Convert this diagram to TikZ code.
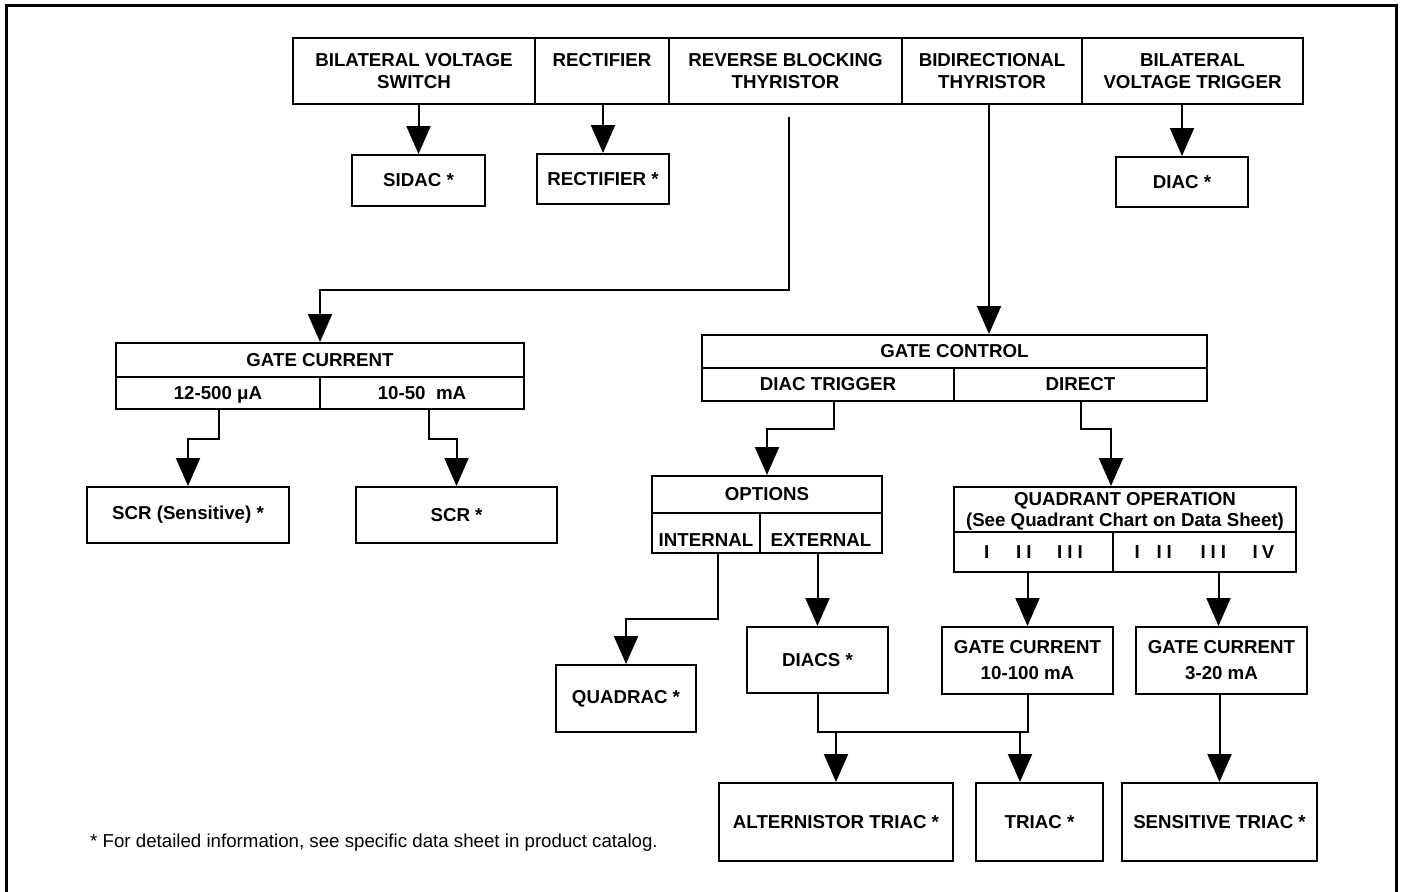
\documentclass[tikz,border=0pt]{standalone}
\usepackage{fontspec}
\setmainfont{Liberation Sans}
\usetikzlibrary{arrows.meta}
\tikzset{
  boxsty/.style={draw, line width=2pt, inner sep=0pt, align=center,
    font=\fontsize{18.7}{22}\selectfont\bfseries},
  conn/.style={line width=2pt},
  arr/.style={line width=2pt, -{Triangle[length=28pt,width=24pt]}},
  notesty/.style={anchor=west, inner sep=0pt, font=\fontsize{18.7}{22}\selectfont},
  framesty/.style={line width=3pt}
}
\newcommand{\mybox}[6]{\node[boxsty, minimum width={(#4-#2)*1pt}, minimum height={(#5-#3)*1pt}] (#1) at ({(#2+#4)/2},{(#3+#5)/2}) {#6};}
\newcommand{\dnshift}[2]{\raisebox{-#1}[\height][\depth]{#2}}
\begin{document}
\begin{tikzpicture}[x=1pt,y=-1pt]
\useasboundingbox (0,0) rectangle (1401,892);
\draw[framesty] (6,905) -- (6,5) -- (1396,5) -- (1396,905);
% top row
\mybox{bvs}{293}{38}{535}{104}{BILATERAL VOLTAGE\\SWITCH}
\mybox{rect}{535}{38}{669}{104}{RECTIFIER\\\phantom{X}}
\mybox{rbt}{669}{38}{902}{104}{REVERSE BLOCKING\\THYRISTOR}
\mybox{bdt}{902}{38}{1082}{104}{BIDIRECTIONAL\\THYRISTOR}
\mybox{bvt}{1082}{38}{1303}{104}{BILATERAL\\VOLTAGE TRIGGER}
\mybox{sidac}{352}{155}{485}{206}{SIDAC *}
\mybox{rectx}{537}{154}{669}{204}{RECTIFIER *}
\mybox{diac}{1116}{157}{1248}{207}{DIAC *}
% gate current (left)
\mybox{gcur}{116}{343}{524}{377}{GATE CURRENT}
\mybox{ga}{116}{377}{320}{409}{\dnshift{2pt}{12-500 μA}}
\mybox{gb}{320}{377}{524}{409}{10-50\ \ mA}
\mybox{scrs}{87}{487}{289}{543}{SCR (Sensitive) *}
\mybox{scr}{356}{487}{557}{543}{SCR *}
% gate control
\mybox{gctl}{702}{335}{1207}{368}{GATE CONTROL}
\mybox{dtr}{702}{368}{954}{401}{DIAC TRIGGER}
\mybox{dir}{954}{368}{1207}{401}{DIRECT}
\mybox{opt}{652}{476}{882}{513}{OPTIONS}
\mybox{int}{652}{513}{760}{553}{\dnshift{7pt}{INTERNAL}}
\mybox{ext}{760}{513}{882}{553}{\dnshift{7pt}{EXTERNAL}}
\mybox{qop}{954}{487}{1296}{532}{\dnshift{2pt}{QUADRANT OPERATION}\\[-1pt]\dnshift{2pt}{(See Quadrant Chart on Data Sheet)}}
\mybox{qa}{954}{532}{1113}{572}{I\hspace{26.8pt}I\hspace{5pt}I\hspace{25.6pt}I\hspace{5pt}I\hspace{5pt}I}
\mybox{qb}{1113}{532}{1296}{572}{I\hspace{16.7pt}I\hspace{5pt}I\hspace{28.6pt}I\hspace{5pt}I\hspace{5pt}I\hspace{26.6pt}I\hspace{4pt}V}
\mybox{quadrac}{556}{665}{696}{732}{QUADRAC *}
\mybox{diacs}{747}{627}{888}{693}{DIACS *}
\mybox{gc100}{942}{627}{1113}{694}{GATE CURRENT\\[4pt]10-100 mA}
\mybox{gc20}{1136}{627}{1307}{694}{GATE CURRENT\\[4pt]3-20 mA}
\mybox{alt}{719}{783}{953}{861}{ALTERNISTOR TRIAC *}
\mybox{triac}{976}{783}{1103}{861}{TRIAC *}
\mybox{sens}{1122}{783}{1317}{861}{SENSITIVE TRIAC *}
\node[notesty] (note) at (90,843) {* For detailed information, see specific data sheet in product catalog.};
% connectors
\draw[arr] (sidac.north |- bvs.south) -- (sidac.north);
\draw[arr] (rectx.north |- rect.south) -- (rectx.north);
\draw[arr] (diac.north |- bvt.south) -- (diac.north);
\coordinate (rbtstart) at (789,117);
\draw[arr] (rbtstart) -- ++(0,173) -| (gcur.north);
\coordinate (bdtstart) at (989,104);
\draw[arr] (bdtstart) -- (bdtstart |- gctl.north);
\draw[arr] ([xshift=1pt]ga.south) -- ++(0,29) -| (scrs.north);
\draw[arr] ([xshift=7pt]gb.south) -- ++(0,29) -| (scr.north);
\draw[arr] ([xshift=6pt]dtr.south) -- ++(0,27) -| (opt.north);
\coordinate (qin) at ([xshift=-14pt]qop.north);
\draw[arr] (dir.south) -- ++(0,27) -| (qin);
\draw[arr] ([xshift=12pt]int.south) -- ++(0,65) -| (quadrac.north);
\draw[arr] (diacs.north |- ext.south) -- (diacs.north);
\draw[arr] (gc100.north |- qa.south) -- (gc100.north);
\coordinate (g20in) at ([xshift=-3pt]gc20.north);
\draw[arr] (g20in |- qb.south) -- (g20in);
\draw[conn] (diacs.south) -- ++(0,38) coordinate (mrg) -| (gc100.south);
\draw[arr] (alt.north |- mrg) -- (alt.north);
\coordinate (trin) at ([xshift=-19.5pt]triac.north);
\draw[arr] (trin |- mrg) -- (trin);
\draw[arr] (sens.north |- gc20.south) -- (sens.north);
\end{tikzpicture}
\end{document}
